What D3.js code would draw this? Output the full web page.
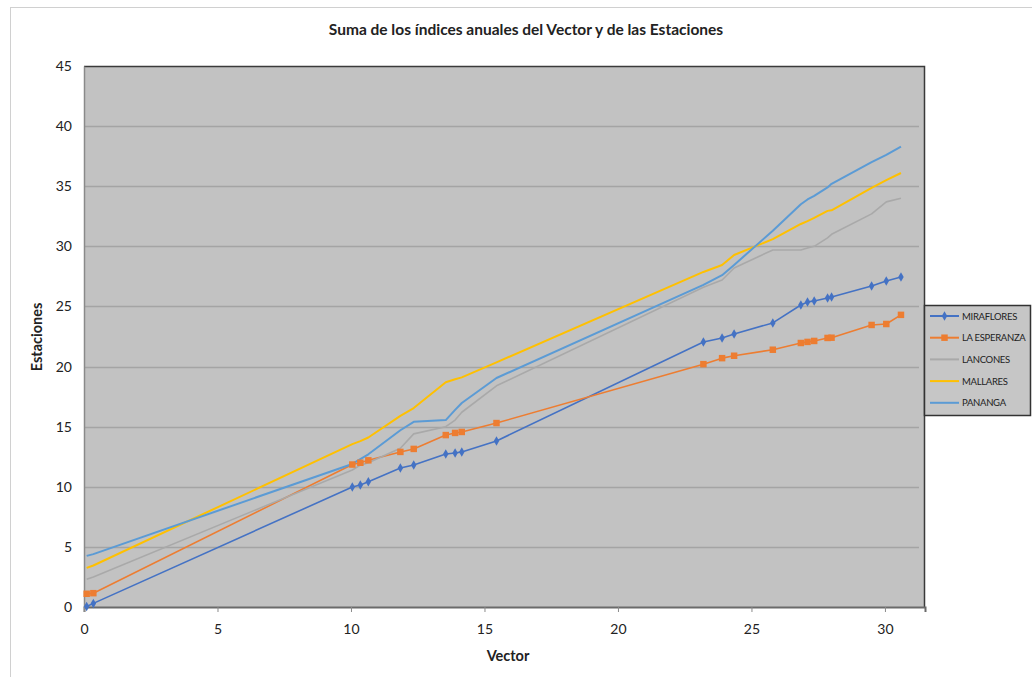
<!DOCTYPE html>
<html>
<head>
<meta charset="utf-8">
<script src="https://cdn.jsdelivr.net/npm/d3@7"></script>
<style>
  html, body { margin: 0; padding: 0; background: #ffffff; }
  svg { display: block; font-family: Lato, "Open Sans", sans-serif; }
</style>
</head>
<body>
<svg id="chart" width="1032" height="677"></svg>
<script>
// Suma acumulada de los índices anuales del Vector (eje X)
const vector = [0.1, 0.35, 10.05, 10.35, 10.65, 11.85, 12.35, 13.55, 13.9, 14.15, 15.45,
                23.2, 23.9, 24.35, 25.8, 26.85, 27.1, 27.35, 27.85, 28.0, 29.5, 30.05, 30.6];

// Suma acumulada de los índices anuales por estación (eje Y)
const miraflores = [0.05, 0.3, 9.98, 10.15, 10.42, 11.56, 11.81, 12.73, 12.81, 12.9, 13.81,
                    22.05, 22.38, 22.71, 23.63, 25.12, 25.37, 25.46, 25.7, 25.79, 26.7, 27.12, 27.45];
const laEsperanza = [1.1, 1.15, 11.85, 12.0, 12.2, 12.9, 13.15, 14.3, 14.48, 14.56, 15.3,
                     20.2, 20.7, 20.9, 21.4, 21.96, 22.05, 22.13, 22.38, 22.4, 23.46, 23.54, 24.3];
const lancones = [2.3, 2.5, 11.4, 11.8, 12.0, 13.2, 14.4, 15.0, 15.55, 16.2, 18.4,
                  26.6, 27.2, 28.2, 29.7, 29.7, 29.87, 30.0, 30.7, 31.0, 32.7, 33.7, 34.0];
const mallares = [3.25, 3.45, 13.55, 13.8, 14.1, 15.9, 16.55, 18.7, 18.95, 19.1, 20.35,
                  27.87, 28.45, 29.28, 30.6, 31.86, 32.1, 32.36, 32.95, 33.0, 34.86, 35.5, 36.1];
const pananga = [4.25, 4.4, 11.9, 12.3, 12.7, 14.7, 15.4, 15.55, 16.4, 16.97, 19.05,
                 26.8, 27.6, 28.45, 31.3, 33.5, 33.9, 34.2, 34.9, 35.2, 37.0, 37.6, 38.3];

const xTicks = [0, 5, 10, 15, 20, 25, 30];
const yTicks = [0, 5, 10, 15, 20, 25, 30, 35, 40, 45];

const seriesNames = ["MIRAFLORES", "LA ESPERANZA", "LANCONES", "MALLARES", "PANANGA"];
const seriesValues = [miraflores, laEsperanza, lancones, mallares, pananga];
const seriesColors = ["#4472C4", "#ED7D31", "#A9A9A9", "#FFC000", "#5B9BD5"];
const seriesMarkers = ["diamond", "square", null, null, null];

const svg = d3.select("#chart");

// Chart frame
svg.append("rect")
  .attr("x", 10.5).attr("y", 7.5)
  .attr("width", 1040).attr("height", 700)
  .attr("fill", "#ffffff")
  .attr("stroke", "#d0d0d0");

const plot = { left: 84, right: 925, top: 66, bottom: 607 };

const x = d3.scaleLinear().domain([0, 31.5]).range([plot.left, plot.right]);
const y = d3.scaleLinear().domain([0, 45]).range([plot.bottom, plot.top]);

// Plot area background
svg.append("rect")
  .attr("x", plot.left).attr("y", plot.top)
  .attr("width", plot.right - plot.left).attr("height", plot.bottom - plot.top)
  .attr("fill", "#c2c2c2");

// Horizontal gridlines
svg.append("g")
  .selectAll("line")
  .data(yTicks.filter(d => d > 0 && d < 45))
  .join("line")
  .attr("x1", plot.left).attr("x2", plot.right - 6)
  .attr("y1", d => Math.round(y(d)) + 0.5).attr("y2", d => Math.round(y(d)) + 0.5)
  .attr("stroke", "#a4a4a4")
  .attr("stroke-width", 1.5);

// Plot border: dark on top and right
svg.append("path")
  .attr("d", `M${plot.left},${plot.top + 0.5}H${plot.right - 0.5}V${plot.bottom}`)
  .attr("fill", "none")
  .attr("stroke", "#3a3a3a")
  .attr("stroke-width", 1.5);

// Axes
const xAxis = d3.axisBottom(x).tickValues(xTicks).tickSize(5).tickPadding(12).tickFormat(d3.format("d"));
const yAxis = d3.axisLeft(y).tickValues(yTicks).tickSize(0).tickPadding(12).tickFormat(d3.format("d"));

const gx = svg.append("g")
  .attr("transform", `translate(0,${plot.bottom})`)
  .call(xAxis);
gx.select(".domain").attr("stroke", "#6a6a6a").attr("stroke-width", 2);
gx.selectAll(".tick line").attr("stroke", "#8a8a8a");
gx.selectAll(".tick text").attr("font-size", 14).attr("fill", "#222").attr("font-family", "Lato, sans-serif");

const gy = svg.append("g")
  .attr("transform", `translate(${plot.left},0)`)
  .call(yAxis);
gy.select(".domain").attr("stroke", "#8a8a8a").attr("stroke-width", 1.5);
gy.selectAll(".tick text").attr("font-size", 14).attr("fill", "#222").attr("font-family", "Lato, sans-serif");

// Series lines and markers
const line = d3.line()
  .x((d, i) => x(vector[i]))
  .y(d => y(d));

const symbolFor = {
  diamond: d3.symbol().type(d3.symbolDiamond).size(26),
  square: d3.symbol().type(d3.symbolSquare).size(42)
};

seriesValues.forEach((vals, s) => {
  svg.append("path")
    .datum(vals)
    .attr("d", line)
    .attr("fill", "none")
    .attr("stroke", seriesColors[s])
    .attr("stroke-width", s >= 3 ? 2 : 1.6)
    .attr("stroke-linejoin", "round");
});

seriesValues.forEach((vals, s) => {
  const m = seriesMarkers[s];
  if (!m) return;
  svg.append("g")
    .selectAll("path")
    .data(vals)
    .join("path")
    .attr("transform", (d, i) => `translate(${x(vector[i])},${y(d)})`)
    .attr("d", symbolFor[m])
    .attr("fill", seriesColors[s]);
});

// Title
svg.append("text")
  .attr("x", 526).attr("y", 35)
  .attr("text-anchor", "middle")
  .attr("font-size", 15.5)
  .attr("font-weight", "bold")
  .attr("fill", "#222")
  .text("Suma de los índices anuales del Vector y de las Estaciones");

// Axis titles
svg.append("text")
  .attr("x", 508).attr("y", 661)
  .attr("text-anchor", "middle")
  .attr("font-size", 14.5)
  .attr("font-weight", "bold")
  .attr("fill", "#222")
  .text("Vector");

svg.append("text")
  .attr("transform", `translate(42,337) rotate(-90)`)
  .attr("text-anchor", "middle")
  .attr("font-size", 14.5)
  .attr("font-weight", "bold")
  .attr("fill", "#222")
  .text("Estaciones");

// Legend
const legend = svg.append("g");
legend.append("rect")
  .attr("x", 924.5).attr("y", 305.5)
  .attr("width", 106).attr("height", 110)
  .attr("fill", "#c6c6c6")
  .attr("stroke", "#333")
  .attr("stroke-width", 1.5);

seriesNames.forEach((name, s) => {
  const cy = 316 + s * 21.7;
  legend.append("line")
    .attr("x1", 930).attr("x2", 959)
    .attr("y1", cy).attr("y2", cy)
    .attr("stroke", seriesColors[s])
    .attr("stroke-width", 2);
  if (seriesMarkers[s]) {
    legend.append("path")
      .attr("transform", `translate(944.5,${cy})`)
      .attr("d", symbolFor[seriesMarkers[s]])
      .attr("fill", seriesColors[s]);
  }
  legend.append("text")
    .attr("x", 962).attr("y", cy + 3.5)
    .attr("font-size", 9.5)
    .attr("fill", "#222")
    .attr("letter-spacing", -0.3)
    .text(name);
});
</script>
</body>
</html>
